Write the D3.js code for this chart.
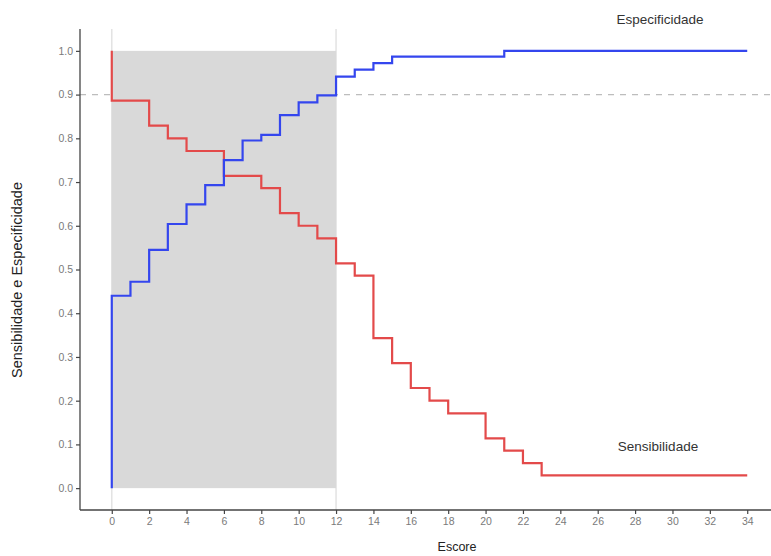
<!DOCTYPE html>
<html><head><meta charset="utf-8">
<script src="https://cdn.jsdelivr.net/npm/d3@7"></script>
<style>body{margin:0;background:#fff}svg{display:block}</style>
</head><body>
<script>
// Data
const sensX = [0, 0, 2, 3, 4, 6, 8, 9, 10, 11, 12, 13, 14, 15, 16, 17, 18, 20, 21, 22, 23, 34];
const sensY = [1.0, 0.886, 0.829, 0.800, 0.771, 0.714, 0.686, 0.629, 0.600, 0.571, 0.514, 0.486, 0.343, 0.286, 0.229, 0.200, 0.171, 0.114, 0.086, 0.057, 0.029, 0.029];
const specX = [0, 0, 1, 2, 3, 4, 5, 6, 7, 8, 9, 10, 11, 12, 13, 14, 15, 21, 34];
const specY = [0.0, 0.440, 0.472, 0.545, 0.604, 0.649, 0.693, 0.750, 0.795, 0.808, 0.853, 0.882, 0.898, 0.941, 0.957, 0.972, 0.987, 1.0, 1.0];
const xTicks = d3.range(0, 35, 2);
const yTicks = [0, 0.1, 0.2, 0.3, 0.4, 0.5, 0.6, 0.7, 0.8, 0.9, 1.0];
const cutoffs = [0, 12];
const refLine = 0.9;

const W = 771, H = 556;
const svg = d3.select("body").append("svg").attr("width", W).attr("height", H);
const x = d3.scaleLinear().domain([-1.7, 35.7]).range([80, 779]);
const y = d3.scaleLinear().domain([-0.05, 1.05]).range([510, 29]);

// vertical cutoff lines
svg.selectAll(".vl").data(cutoffs).enter().append("line")
  .attr("x1", d => x(d)).attr("x2", d => x(d)).attr("y1", y(1.05)).attr("y2", y(-0.05))
  .attr("stroke", "#e3e3e3").attr("stroke-width", 1.5);
// dashed reference line
svg.append("line").attr("x1", 80).attr("x2", W).attr("y1", y(refLine)).attr("y2", y(refLine))
  .attr("stroke", "#bdbdbd").attr("stroke-width", 1.2).attr("stroke-dasharray", "6,6");
// shaded rectangle
svg.append("rect").attr("x", x(cutoffs[0])).attr("y", y(1)).attr("width", x(cutoffs[1]) - x(cutoffs[0]))
  .attr("height", y(0) - y(1)).attr("fill", "#d9d9d9");

const line = d3.line().x(d => x(d[0])).y(d => y(d[1])).curve(d3.curveStepAfter);
svg.append("path").datum(sensX.map((v, i) => [v, sensY[i]]))
  .attr("d", line).attr("fill", "none").attr("stroke", "#e34a4a").attr("stroke-width", 2.2);
svg.append("path").datum(specX.map((v, i) => [v, specY[i]]))
  .attr("d", line).attr("fill", "none").attr("stroke", "#3446ee").attr("stroke-width", 2.2);

// axes
const xa = svg.append("g").attr("transform", "translate(0,510)")
  .call(d3.axisBottom(x).tickValues(xTicks).tickSize(4).tickPadding(4).tickFormat(d3.format("d")));
const ya = svg.append("g").attr("transform", "translate(80,0)")
  .call(d3.axisLeft(y).tickValues(yTicks).tickSize(4).tickPadding(3).tickFormat(d3.format(".1f")));
[xa, ya].forEach(a => {
  a.select(".domain").attr("stroke", "#444").attr("stroke-width", 1.3);
  a.selectAll(".tick line").attr("stroke", "#444").attr("stroke-width", 1.2);
  a.selectAll(".tick text").attr("fill", "#7a7a7a").style("font-family", "Liberation Sans, Arial, sans-serif").style("font-size", "10.5px");
});
xa.select(".domain").attr("d", "M80,0H771");
ya.select(".domain").attr("d", "M0,29V510");

const tf = "Liberation Sans, Arial, sans-serif";
svg.append("text").attr("x", 457).attr("y", 551).attr("text-anchor", "middle")
  .style("font-family", tf).style("font-size", "12.5px").attr("fill", "#222").text("Escore");
svg.append("text").attr("transform", "translate(22,280) rotate(-90)").attr("text-anchor", "middle")
  .style("font-family", tf).style("font-size", "14.5px").attr("fill", "#222").text("Sensibilidade e Especificidade");
svg.append("text").attr("x", 660).attr("y", 24).attr("text-anchor", "middle")
  .style("font-family", tf).style("font-size", "13.5px").attr("fill", "#333").text("Especificidade");
svg.append("text").attr("x", 658).attr("y", 451).attr("text-anchor", "middle")
  .style("font-family", tf).style("font-size", "13.5px").attr("fill", "#333").text("Sensibilidade");
</script>
</body></html>
